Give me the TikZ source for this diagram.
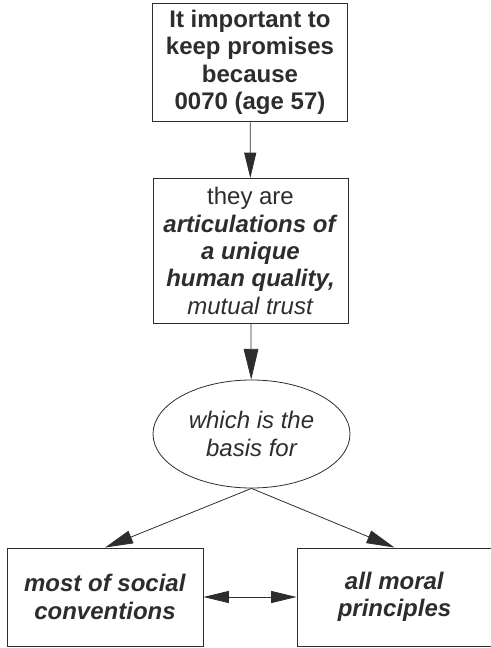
\documentclass[tikz,border=0pt]{standalone}
\usepackage{fontspec}
\setmainfont{Liberation Sans}
\usepackage{xcolor}
\usepackage{tikz}
\usetikzlibrary{shapes.geometric, arrows.meta}
\definecolor{ink}{RGB}{45, 45, 45}
\tikzstyle{card} = [rectangle, minimum width=146.25pt, text centered, align=center, draw=ink, line width=0.7pt, text=ink, inner sep=0pt, font=\fontsize{18}{20.5}\selectfont]
\tikzstyle{bubble} = [ellipse, minimum width=147.75pt, minimum height=81pt, align=center, draw=ink, line width=0.6pt, text=ink, inner sep=0pt, font=\fontsize{18}{20.5}\selectfont\itshape]
\tikzstyle{arrow} = [draw=ink, line width=0.6pt, -{Triangle[length=19pt, width=9pt]}]

\begin{document}
\begin{tikzpicture}[x=0.75pt, y=-0.75pt]
    \useasboundingbox (0, 0) rectangle (490, 648);
    \node[card, minimum height=89pt] (prom) at (250, 62.5) {\textbf{It important to}\\\textbf{keep promises}\\\textbf{because}\\\textbf{0070 (age 57)}};
    \node[card, minimum height=108.75pt] (trust) at (250.5, 251) {they are\\\textbf{\itshape articulations of}\\\textbf{\itshape a unique}\\\textbf{\itshape human quality,}\\\textit{mutual trust}};
    \node[bubble] (basis) at (251.5, 434) {which is the\\basis for};
    \node[card, minimum width=147pt, minimum height=73.5pt] (soc) at (105, 597) {\textbf{\itshape most of social}\\\textbf{\itshape conventions}};
    \node[card, minimum width=146.25pt, minimum height=73.5pt] (mor) at (394.5, 597) {\textbf{\itshape all moral}\\\textbf{\itshape principles}};

    \draw[arrow] (prom) -- (trust);
    \draw[arrow, -{Triangle[length=23pt, width=11pt]}] (trust) -- (basis);
    \draw[arrow, -{Triangle[length=21pt, width=10pt]}] (basis.south) -- (soc.north);
    \draw[arrow, -{Triangle[length=21pt, width=10pt]}] (basis.south) -- (mor.north);
    \draw[arrow, {Triangle[length=19pt, width=9pt]}-{Triangle[length=19pt, width=9pt]}] (soc) -- (mor);
\end{tikzpicture}
\end{document}
